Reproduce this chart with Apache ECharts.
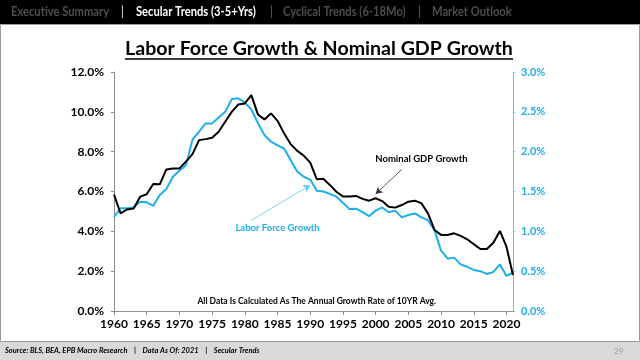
<!DOCTYPE html>
<html>
<head>
<meta charset="utf-8">
<script src="https://cdn.jsdelivr.net/npm/echarts@6/dist/echarts.min.js"></script>
<style>
html,body{margin:0;padding:0;background:#fff;}
#chart{width:640px;height:360px;}
</style>
</head>
<body>
<div id="chart"></div>
<script>
// ---- data ----
var years = [];
for (var y = 1960; y <= 2021; y++) years.push(String(y));

// Nominal GDP growth, 10YR avg annual growth (%), left axis
var gdpGrowth = [5.85,4.90,5.10,5.15,5.74,5.86,6.38,6.36,7.11,7.16,
                 7.16,7.50,7.88,8.58,8.63,8.70,9.00,9.50,10.00,10.37,
                 10.42,10.84,9.87,9.62,9.92,9.55,8.92,8.38,8.05,7.80,
                 7.45,6.62,6.64,6.33,5.99,5.75,5.75,5.78,5.63,5.54,
                 5.66,5.52,5.24,5.19,5.32,5.49,5.54,5.41,4.90,4.07,
                 3.82,3.82,3.90,3.77,3.60,3.36,3.11,3.11,3.43,4.02,
                 3.23,1.81];

// Labor force growth, 10YR avg annual growth (%), right axis
var laborGrowth = [1.18,1.29,1.29,1.30,1.37,1.365,1.32,1.455,1.53,1.685,
                   1.76,1.83,2.15,2.25,2.355,2.355,2.43,2.50,2.66,2.67,
                   2.615,2.53,2.36,2.21,2.125,2.08,2.04,1.895,1.75,1.685,
                   1.65,1.51,1.50,1.47,1.435,1.36,1.28,1.285,1.24,1.19,
                   1.26,1.30,1.24,1.26,1.175,1.205,1.225,1.175,1.14,1.015,
                   0.757,0.66,0.67,0.585,0.555,0.515,0.50,0.465,0.49,0.585,
                   0.44,0.48];

var leftTicks = [0, 2, 4, 6, 8, 10, 12];
var rightTicks = [0, 0.5, 1.0, 1.5, 2.0, 2.5, 3.0];

var navItems = ["Executive Summary", "Secular Trends (3-5+Yrs)", "Cyclical Trends (6-18Mo)", "Market Outlook"];
var titleText = "Labor Force Growth & Nominal GDP Growth";
var noteText = "All Data Is Calculated As The Annual Growth Rate of 10YR Avg.";
var footerText = "Source: BLS, BEA, EPB Macro Research    |    Data As Of: 2021    |    Secular Trends";
var pageNum = "29";

// ---- styling ----
var FONT = "Lato, 'Open Sans', sans-serif";
var BLUE = "#1daeec";
var NAVF = "bold 13px " + FONT;
var NAVS = 0.86;

var chart = echarts.init(document.getElementById('chart'), null, {renderer: 'canvas'});

function navText(x, txt, col) {
  return {type: 'text', x: x, y: 12, scaleX: NAVS, silent: true,
          style: {text: txt, fill: col, font: NAVF, textVerticalAlign: 'middle'}};
}

var graphics = [
  {type: 'rect', shape: {x: 0, y: 0, width: 640, height: 24}, style: {fill: '#000'}, silent: true},
  {type: 'rect', shape: {x: 0.5, y: 24.5, width: 639, height: 317}, style: {fill: 'none', stroke: '#9a9a9a', lineWidth: 1}, silent: true},
  {type: 'rect', shape: {x: 0, y: 342, width: 640, height: 18}, style: {fill: '#d9d9d9'}, silent: true},
  // nav
  navText(11, navItems[0], '#4d4d4d'),
  navText(121, '|', '#bdbdbd'),
  navText(136, navItems[1], '#ffffff'),
  navText(270, '|', '#4d4d4d'),
  navText(283, navItems[2], '#4d4d4d'),
  navText(418, '|', '#4d4d4d'),
  navText(432, navItems[3], '#4d4d4d'),
  // title
  {type: 'text', x: 319, y: 49, silent: true, style: {text: titleText, fill: '#000', font: "bold 19.6px " + FONT, textAlign: 'center', textVerticalAlign: 'middle'}},
  {type: 'line', shape: {x1: 125, y1: 59, x2: 513, y2: 59}, style: {stroke: '#000', lineWidth: 1.3}, silent: true},
  // footer
  {type: 'text', x: 5, y: 351, silent: true, style: {text: footerText, fill: '#000', font: "italic bold 7.5px " + FONT, textVerticalAlign: 'middle'}},
  {type: 'text', x: 614, y: 351, silent: true, style: {text: pageNum, fill: '#9a9a9a', font: "8px " + FONT, textVerticalAlign: 'middle'}}
];

var option = {
  animation: false,
  backgroundColor: '#fff',
  textStyle: {fontFamily: FONT},
  grid: {left: 114, right: 127, top: 72, bottom: 49, containLabel: false},
  xAxis: {
    type: 'category',
    data: years,
    boundaryGap: false,
    axisLine: {lineStyle: {color: '#8c8c8c', width: 1}},
    axisTick: {show: true, interval: 4, length: 4, lineStyle: {color: '#8c8c8c'}},
    axisLabel: {interval: 4, color: '#000', fontWeight: 'bold', fontSize: 12, margin: 7, fontFamily: FONT},
    splitLine: {show: false}
  },
  yAxis: [
    {
      type: 'value', min: leftTicks[0], max: leftTicks[leftTicks.length - 1], interval: 2,
      axisLine: {show: true, lineStyle: {color: '#8c8c8c'}},
      axisTick: {show: true, length: 3, lineStyle: {color: '#8c8c8c'}},
      axisLabel: {color: '#000', fontWeight: 'bold', fontSize: 12, margin: 10, fontFamily: FONT,
                  formatter: function (v) { return v.toFixed(1) + '%'; }},
      splitLine: {show: false}
    },
    {
      type: 'value', min: rightTicks[0], max: rightTicks[rightTicks.length - 1], interval: 0.5,
      position: 'right',
      axisLine: {show: true, lineStyle: {color: '#5cc6f2'}},
      axisTick: {show: true, inside: false, length: 2, lineStyle: {color: '#5cc6f2'}},
      axisLabel: {color: BLUE, fontWeight: 'bold', fontSize: 11, margin: 8, fontFamily: FONT,
                  formatter: function (v) { return v.toFixed(1) + '%'; }},
      splitLine: {show: false}
    }
  ],
  series: [
    {
      name: 'Nominal GDP Growth', type: 'line', yAxisIndex: 0, data: gdpGrowth,
      symbol: 'none', lineStyle: {color: '#000', width: 2}, z: 3,
      markLine: {
        silent: true, symbol: ['none', 'arrow'], symbolSize: [6, 7],
        lineStyle: {color: '#333', width: 0.8, type: 'solid'},
        label: {show: false},
        data: [[{coord: [44, 7.11]}, {coord: [40.2, 5.87]}]]
      },
      markPoint: {
        silent: true, symbol: 'circle', symbolSize: 0,
        data: [
          {coord: [47, 7.63], label: {show: true, position: 'inside', formatter: 'Nominal GDP Growth', color: '#000', fontWeight: 'bold', fontSize: 9.5, fontFamily: FONT}},
          {coord: [31.4, 0.47], label: {show: true, position: 'inside', formatter: noteText, color: '#000', fontWeight: 'bold', fontSize: 8.5, fontFamily: FONT}}
        ]
      }
    },
    {
      name: 'Labor Force Growth', type: 'line', yAxisIndex: 1, data: laborGrowth,
      symbol: 'none', lineStyle: {color: BLUE, width: 2}, z: 2,
      markLine: {
        silent: true, symbol: ['none', 'arrow'], symbolSize: [6, 7],
        lineStyle: {color: '#5cc6f2', width: 0.8, type: 'solid'},
        label: {show: false},
        data: [[{coord: [21.25, 1.14]}, {coord: [29.5, 1.58]}]]
      },
      markPoint: {
        silent: true, symbol: 'circle', symbolSize: 0,
        data: [
          {coord: [25.2, 1.04], label: {show: true, position: 'inside', formatter: 'Labor Force Growth', color: BLUE, fontWeight: 'bold', fontSize: 9.5, fontFamily: FONT}}
        ]
      }
    }
  ],
  graphic: graphics
};

chart.setOption(option);
</script>
</body>
</html>
